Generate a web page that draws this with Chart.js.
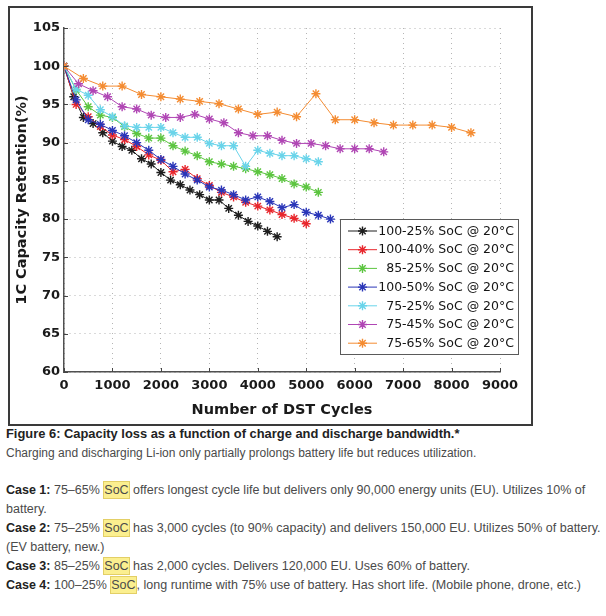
<!DOCTYPE html>
<html>
<head>
<meta charset="utf-8">
<script src="https://cdn.jsdelivr.net/npm/chart.js@4.4.1/dist/chart.umd.min.js"></script>
<style>
html,body{margin:0;padding:0;background:#fff;}
body{width:606px;height:616px;position:relative;overflow:hidden;font-family:"Liberation Sans",Arial,sans-serif;}
#frame{position:absolute;left:8px;top:6px;width:521px;height:416px;border:2px solid #3a3a3a;background:#fff;}
#frame canvas{display:block;}
.ln{position:absolute;left:6px;white-space:nowrap;font-size:12.5px;line-height:16px;height:16px;color:#4a4a4a;}
.ln b{color:#222;}
.cap{color:#222;font-weight:bold;font-size:12.9px;}
.plain{font-size:12px;}
.soc{background:#fbef8f;border:1px solid #e3cf66;padding:1px 0;}
</style>
</head>
<body>
<div id="frame"><canvas id="c" width="521" height="416"></canvas></div>

<div class="ln cap" style="top:426px">Figure 6: Capacity loss as a function of charge and discharge bandwidth.*</div>
<div class="ln plain" style="top:445px">Charging and discharging Li-ion only partially prolongs battery life but reduces utilization.</div>
<div class="ln" style="top:482px"><b>Case 1:</b> 75–65% <span class="soc">SoC</span> offers longest cycle life but delivers only 90,000 energy units (EU). Utilizes 10% of</div>
<div class="ln" style="top:501px">battery.</div>
<div class="ln" style="top:520px"><b>Case 2:</b> 75–25% <span class="soc">SoC</span> has 3,000 cycles (to 90% capacity) and delivers 150,000 EU. Utilizes 50% of battery.</div>
<div class="ln" style="top:539px">(EV battery, new.)</div>
<div class="ln" style="top:558px"><b>Case 3:</b> 85–25% <span class="soc">SoC</span> has 2,000 cycles. Delivers 120,000 EU. Uses 60% of battery.</div>
<div class="ln" style="top:577px"><b>Case 4:</b> 100–25% <span class="soc">SoC</span>, long runtime with 75% use of battery. Has short life. (Mobile phone, drone, etc.)</div>

<script>
// ---- data ----
const seriesLabels = [
  '100-25% SoC @ 20°C',
  '100-40% SoC @ 20°C',
  '85-25% SoC @ 20°C',
  '100-50% SoC @ 20°C',
  '75-25% SoC @ 20°C',
  '75-45% SoC @ 20°C',
  '75-65% SoC @ 20°C'
];
const seriesColors = ['#1e1e1e','#e8262c','#5cc540','#2a36b8','#6ad4ea','#b046b4','#f48c32'];

const cycles_100_25 = [0,200,400,600,800,1000,1200,1400,1600,1800,2000,2200,2400,2600,2800,3000,3200,3400,3600,3800,4000,4200,4400];
const retention_100_25 = [100,96.0,93.3,92.5,91.3,90.2,89.5,89.0,87.9,87.2,86.1,85.1,84.5,83.8,83.2,82.5,82.5,81.4,80.5,79.7,79.1,78.4,77.7];

const cycles_100_40 = [0,250,500,750,1000,1250,1500,1750,2000,2250,2500,2750,3000,3250,3500,3750,4000,4250,4500,4750,5000];
const retention_100_40 = [100,95.0,93.4,92.1,91.0,90.4,89.5,88.4,87.7,86.2,86.5,85.3,84.4,83.5,82.9,82.2,81.7,81.2,80.6,80.1,79.4];

const cycles_85_25 = [0,250,500,750,1000,1250,1500,1750,2000,2250,2500,2750,3000,3250,3500,3750,4000,4250,4500,4750,5000,5250];
const retention_85_25 = [100,96.9,94.7,93.6,93.3,92.1,91.2,90.6,90.6,89.6,88.9,88.3,87.5,87.2,86.9,86.6,86.2,85.8,85.3,84.6,84.2,83.5];

const cycles_100_50 = [0,250,500,750,1000,1250,1500,1750,2000,2250,2500,2750,3000,3250,3500,3750,4000,4250,4500,4750,5000,5250,5500];
const retention_100_50 = [100,95.6,93.0,92.4,91.6,90.9,90.0,89.0,87.8,86.9,85.9,85.1,84.2,83.8,83.2,82.5,82.9,82.3,81.5,81.9,80.9,80.5,80.0];

const cycles_75_25 = [0,250,500,750,1000,1250,1500,1750,2000,2250,2500,2750,3000,3250,3500,3750,4000,4250,4500,4750,5000,5250];
const retention_75_25 = [100,97.0,96.2,94.3,93.4,92.2,92.0,92.0,92.0,91.3,90.7,90.7,89.9,89.6,89.6,86.9,89.0,88.6,88.3,88.3,87.9,87.5];

const cycles_75_45 = [0,300,600,900,1200,1500,1800,2100,2400,2700,3000,3300,3600,3900,4200,4500,4800,5100,5400,5700,6000,6300,6600];
const retention_75_45 = [100,97.7,96.8,96.0,94.7,94.4,93.6,93.3,93.3,93.7,93.1,92.6,91.3,90.9,90.9,90.3,89.9,89.9,89.6,89.2,89.2,89.2,88.8];

const cycles_75_65 = [0,400,800,1200,1600,2000,2400,2800,3200,3600,4000,4400,4800,5200,5600,6000,6400,6800,7200,7600,8000,8400];
const retention_75_65 = [100,98.4,97.4,97.4,96.3,96.0,95.7,95.4,95.1,94.4,93.7,94.0,93.4,96.4,93.0,93.0,92.6,92.3,92.3,92.3,92.0,91.3];

const xTickValues = [0,1000,2000,3000,4000,5000,6000,7000,8000,9000];
const yTickValues = [60,65,70,75,80,85,90,95,100,105];
const xTitle = 'Number of DST Cycles';
const yTitle = '1C Capacity Retention(%)';

const allCycles = [cycles_100_25,cycles_100_40,cycles_85_25,cycles_100_50,cycles_75_25,cycles_75_45,cycles_75_65];
const allRetention = [retention_100_25,retention_100_40,retention_85_25,retention_100_50,retention_75_25,retention_75_45,retention_75_65];

const datasets = seriesLabels.map((lab,i)=>({
  label: lab,
  data: allCycles[i].map((x,k)=>({x:x, y:allRetention[i][k]})),
  borderColor: seriesColors[i],
  backgroundColor: seriesColors[i],
  pointBorderColor: seriesColors[i],
  pointBackgroundColor: seriesColors[i],
  borderWidth: 1,
  pointStyle: 'star',
  pointRadius: 4.5,
  pointBorderWidth: 1.4,
  tension: 0,
  fill: false,
  order: -i
}));

function drawStar(ctx, x, y, r){
  ctx.beginPath();
  for (let a=0;a<4;a++){
    const ang = a*Math.PI/4;
    const dx = Math.cos(ang)*r, dy = Math.sin(ang)*r;
    ctx.moveTo(x-dx,y-dy); ctx.lineTo(x+dx,y+dy);
  }
  ctx.stroke();
}

const innerTicks = {
  id:'innerTicks',
  afterDraw(chart){
    const {ctx, chartArea, scales} = chart;
    ctx.save();
    ctx.strokeStyle = '#444'; ctx.lineWidth = 1;
    scales.y.ticks.forEach(t=>{
      const y = Math.round(scales.y.getPixelForValue(t.value))+0.5;
      ctx.beginPath(); ctx.moveTo(chartArea.left, y); ctx.lineTo(chartArea.left+4, y); ctx.stroke();
    });
    scales.x.ticks.forEach(t=>{
      const x = Math.round(scales.x.getPixelForValue(t.value))+0.5;
      ctx.beginPath(); ctx.moveTo(x, chartArea.bottom); ctx.lineTo(x, chartArea.bottom-4); ctx.stroke();
    });
    ctx.restore();
  }
};

const boxLegend = {
  id:'boxLegend',
  afterDraw(chart){
    const {ctx, chartArea} = chart;
    const w = 179, h = 136, rowH = 18.7;
    const right = chartArea.right + 19, bottom = chartArea.bottom - 17;
    const left = right - w, top = bottom - h;
    ctx.save();
    ctx.fillStyle = '#fff';
    ctx.fillRect(left, top, w, h);
    ctx.strokeStyle = '#5a5a5a'; ctx.lineWidth = 1;
    ctx.strokeRect(Math.round(left)+0.5, Math.round(top)+0.5, w-1, h-1);
    ctx.font = '12.5px "DejaVu Sans"';
    ctx.textAlign = 'right'; ctx.textBaseline = 'middle';
    chart.data.datasets.forEach((ds,i)=>{
      const y = top + 12 + i*rowH;
      ctx.strokeStyle = ds.borderColor; ctx.lineWidth = 1;
      ctx.beginPath(); ctx.moveTo(left+8, y); ctx.lineTo(left+37, y); ctx.stroke();
      ctx.lineWidth = 1.4;
      drawStar(ctx, left+22.5, y, 4.5);
      ctx.fillStyle = '#151515';
      ctx.fillText(ds.label, right-5, y+0.5);
    });
    ctx.restore();
  }
};

const tickFont = { family: 'DejaVu Sans', size: 13, weight: 'bold' };
const titleFont = { family: 'DejaVu Sans', size: 14.5, weight: 'bold' };

new Chart(document.getElementById('c'), {
  type: 'line',
  data: { datasets },
  options: {
    responsive: false,
    animation: false,
    devicePixelRatio: 1,
    layout: { padding: { top: 20, right: 31, left: 0, bottom: 0 } },
    plugins: { legend: { display: false }, tooltip: { enabled: false } },
    scales: {
      x: {
        type: 'linear', min: 0, max: 9000,
        afterBuildTicks(scale){ scale.ticks = xTickValues.map(v=>({value:v})); },
        afterFit(scale){ scale.height = 52; },
        grid: { color: '#b5b5b5', lineWidth: 1, drawTicks: false },
        border: { display: true, color: '#505050', width: 1.5, dash: [1,4] },
        ticks: { padding: 6, color: '#1a1a1a', font: tickFont, maxRotation: 0, callback: v => String(v) },
        title: { display: true, text: xTitle, color: '#1a1a1a', font: titleFont, padding: { top: 0, bottom: 5 } }
      },
      y: {
        min: 60, max: 105,
        afterBuildTicks(scale){ scale.ticks = yTickValues.map(v=>({value:v})); },
        afterFit(scale){ scale.width = 54; },
        grid: { color: '#b5b5b5', lineWidth: 1, drawTicks: false },
        border: { display: true, color: '#505050', width: 1.5, dash: [1,4] },
        ticks: { padding: 4, color: '#1a1a1a', font: tickFont, callback: v => String(v) },
        title: { display: true, text: yTitle, color: '#1a1a1a', font: titleFont, padding: { top: 4, bottom: 0 } }
      }
    }
  },
  plugins: [innerTicks, boxLegend]
});
</script>
</body>
</html>
